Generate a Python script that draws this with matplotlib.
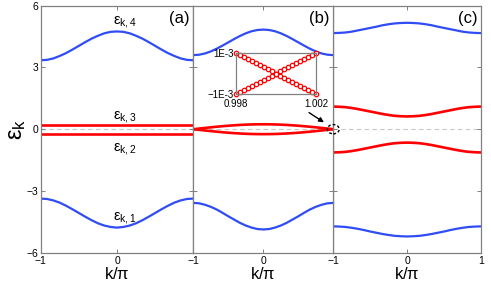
import numpy as np
import matplotlib
matplotlib.use('Agg')
from matplotlib import pyplot as plt
from matplotlib.patches import Ellipse

plt.rcParams['font.family'] = ['Liberation Sans', 'DejaVu Sans']
plt.rcParams['mathtext.fontset'] = 'custom'
plt.rcParams['mathtext.rm'] = 'Liberation Sans'
plt.rcParams['mathtext.it'] = 'Liberation Sans'
plt.rcParams['mathtext.bf'] = 'Liberation Sans'

## data (k/pi from -1 to 1 in steps of 1/12)
k = [-1, -11/12, -10/12, -9/12, -8/12, -7/12, -6/12, -5/12, -4/12, -3/12, -2/12, -1/12, 0,
     1/12, 2/12, 3/12, 4/12, 5/12, 6/12, 7/12, 8/12, 9/12, 10/12, 11/12, 1]

# (a)
a_e4 = [3.35, 3.37, 3.44, 3.56, 3.70, 3.87, 4.05, 4.23, 4.40, 4.54, 4.66, 4.73, 4.75,
        4.73, 4.66, 4.54, 4.40, 4.23, 4.05, 3.87, 3.70, 3.56, 3.44, 3.37, 3.35]
a_e3 = [0.22] * 25
a_e2 = [-0.22] * 25
a_e1 = [-3.37, -3.39, -3.46, -3.57, -3.72, -3.89, -4.07, -4.25, -4.42, -4.57, -4.68, -4.75, -4.78,
        -4.75, -4.68, -4.57, -4.42, -4.25, -4.07, -3.89, -3.72, -3.57, -3.46, -3.39, -3.37]

# (b)
b_e4 = [3.60, 3.62, 3.68, 3.78, 3.91, 4.06, 4.22, 4.38, 4.53, 4.66, 4.76, 4.82, 4.84,
        4.82, 4.76, 4.66, 4.53, 4.38, 4.22, 4.06, 3.91, 3.78, 3.68, 3.62, 3.60]
b_e3 = [0.0, 0.031, 0.062, 0.092, 0.12, 0.146, 0.17, 0.19, 0.208, 0.222, 0.232, 0.238, 0.24,
        0.238, 0.232, 0.222, 0.208, 0.19, 0.17, 0.146, 0.12, 0.092, 0.062, 0.031, 0.0]
b_e2 = [0.0, -0.031, -0.062, -0.092, -0.12, -0.146, -0.17, -0.19, -0.208, -0.222, -0.232, -0.238, -0.24,
        -0.238, -0.232, -0.222, -0.208, -0.19, -0.17, -0.146, -0.12, -0.092, -0.062, -0.031, 0.0]
b_e1 = [-3.58, -3.60, -3.67, -3.77, -3.90, -4.06, -4.23, -4.39, -4.55, -4.68, -4.78, -4.85, -4.87,
        -4.85, -4.78, -4.68, -4.55, -4.39, -4.23, -4.06, -3.90, -3.77, -3.67, -3.60, -3.58]

# (c)
c_e4 = [4.67, 4.68, 4.70, 4.74, 4.80, 4.86, 4.92, 4.98, 5.05, 5.10, 5.14, 5.16, 5.17,
        5.16, 5.14, 5.10, 5.05, 4.98, 4.92, 4.86, 4.80, 4.74, 4.70, 4.68, 4.67]
c_e3 = [1.10, 1.09, 1.07, 1.03, 0.98, 0.92, 0.86, 0.80, 0.74, 0.69, 0.65, 0.63, 0.62,
        0.63, 0.65, 0.69, 0.74, 0.80, 0.86, 0.92, 0.98, 1.03, 1.07, 1.09, 1.10]
c_e2 = [-1.13, -1.12, -1.10, -1.06, -1.01, -0.95, -0.89, -0.83, -0.77, -0.72, -0.68, -0.66, -0.65,
        -0.66, -0.68, -0.72, -0.77, -0.83, -0.89, -0.95, -1.01, -1.06, -1.10, -1.12, -1.13]
c_e1 = [-4.72, -4.73, -4.75, -4.79, -4.84, -4.90, -4.97, -5.03, -5.09, -5.14, -5.18, -5.20, -5.21,
        -5.20, -5.18, -5.14, -5.09, -5.03, -4.97, -4.90, -4.84, -4.79, -4.75, -4.73, -4.72]

# inset of (b): crossing near k/pi = 1
ins_k = [0.998, 0.9982, 0.9984, 0.9986, 0.9988, 0.999, 0.9992, 0.9994, 0.9996, 0.9998, 1.0,
         1.0002, 1.0004, 1.0006, 1.0008, 1.001, 1.0012, 1.0014, 1.0016, 1.0018, 1.002]
ins_up = [-1.0e-3, -0.9e-3, -0.8e-3, -0.7e-3, -0.6e-3, -0.5e-3, -0.4e-3, -0.3e-3, -0.2e-3, -0.1e-3, 0.0,
          0.1e-3, 0.2e-3, 0.3e-3, 0.4e-3, 0.5e-3, 0.6e-3, 0.7e-3, 0.8e-3, 0.9e-3, 1.0e-3]
ins_dn = [1.0e-3, 0.9e-3, 0.8e-3, 0.7e-3, 0.6e-3, 0.5e-3, 0.4e-3, 0.3e-3, 0.2e-3, 0.1e-3, 0.0,
          -0.1e-3, -0.2e-3, -0.3e-3, -0.4e-3, -0.5e-3, -0.6e-3, -0.7e-3, -0.8e-3, -0.9e-3, -1.0e-3]

xticklabels = [['\u22121', '0', ''], ['\u22121', '0', ''], ['\u22121', '0', '1']]
panel_names = ['(a)', '(b)', '(c)']

blue = '#2f4cf5'
red = '#ff0000'
gray = '#808080'

fig = plt.figure(figsize=(4.91, 2.93), dpi=100)

bounds = [0.0829, 0.3937, 0.6788, 0.9796]
bottom = 0.1375
height = 0.843
axes = []
for i in range(3):
    ax = fig.add_axes([bounds[i], bottom, bounds[i + 1] - bounds[i], height])
    axes.append(ax)

sets = [(a_e1, a_e2, a_e3, a_e4), (b_e1, b_e2, b_e3, b_e4), (c_e1, c_e2, c_e3, c_e4)]

for i, ax in enumerate(axes):
    e1, e2, e3, e4 = sets[i]
    ax.axhline(0, color='#c8c8c8', lw=0.8, ls=(0, (4, 3)), zorder=1)
    ax.plot(k, e4, color=blue, lw=1.6)
    ax.plot(k, e1, color=blue, lw=1.6)
    ax.plot(k, e3, color=red, lw=1.9)
    ax.plot(k, e2, color=red, lw=1.9)
    ax.set_xlim(-1, 1)
    ax.set_ylim(-6, 6)
    ax.set_xticks([-1, 0, 1])
    ax.set_xticklabels(xticklabels[i])
    ax.set_yticks([-6, -3, 0, 3, 6])
    if i > 0:
        ax.set_yticklabels([])
    ax.tick_params(direction='in', length=3, width=0.7, color=gray, labelsize=7.5,
                   top=True, right=True, pad=1.5)
    ax.tick_params(axis='x', pad=2.5)
    for s in ax.spines.values():
        s.set_color(gray)
        s.set_linewidth(0.9)
    ax.set_xlabel(r'k/$\pi$', fontsize=12, labelpad=0)
    ax.text(0.975, 0.978, panel_names[i], transform=ax.transAxes, ha='right', va='top', fontsize=12)

axes[0].set_ylabel(r'$\varepsilon_{\mathrm{k}}$', fontsize=17, labelpad=-1)

# band labels in (a)
for y, n in [(5.2, 4), (0.6, 3), (-0.95, 2), (-4.3, 1)]:
    axes[0].text(-0.05, y, r'$\varepsilon_{\mathrm{k,%d}}$' % n, fontsize=10.5, ha='left', va='center')

# arrow and dashed circle in (b)
axb = axes[1]
axb.set_zorder(5)
axb.annotate('', xy=(0.9, 0.26), xytext=(0.62, 0.88),
             arrowprops=dict(arrowstyle='-|>', color='k', lw=1.0, mutation_scale=7))
axb.add_patch(Ellipse((1.0, 0.0), 0.17, 0.45, fill=False, ec='k', lw=1.0,
                      ls=(0, (2, 1.5)), clip_on=False, zorder=6))

# inset
ins = fig.add_axes([0.4807, 0.678, 0.163, 0.142])
ins.set_zorder(10)
ins.plot(ins_k, ins_up, color=red, lw=0.8, marker='o', ms=3.2, mfc='white', mew=0.9, clip_on=False)
ins.plot(ins_k, ins_dn, color=red, lw=0.8, marker='o', ms=3.2, mfc='white', mew=0.9, clip_on=False)
ins.set_xlim(0.998, 1.002)
ins.set_ylim(-1e-3, 1e-3)
ins.set_xticks([0.998, 1.002])
ins.set_xticklabels(['0.998', '1.002'])
ins.set_yticks([-1e-3, 1e-3])
ins.set_yticklabels(['\u22121E-3', '1E-3'])
ins.tick_params(length=0, labelsize=7, pad=1.5)
ins.tick_params(axis='x', pad=3.5)
for s in ins.spines.values():
    s.set_color(gray)
    s.set_linewidth(0.9)

plt.savefig('out.png', dpi=100)
